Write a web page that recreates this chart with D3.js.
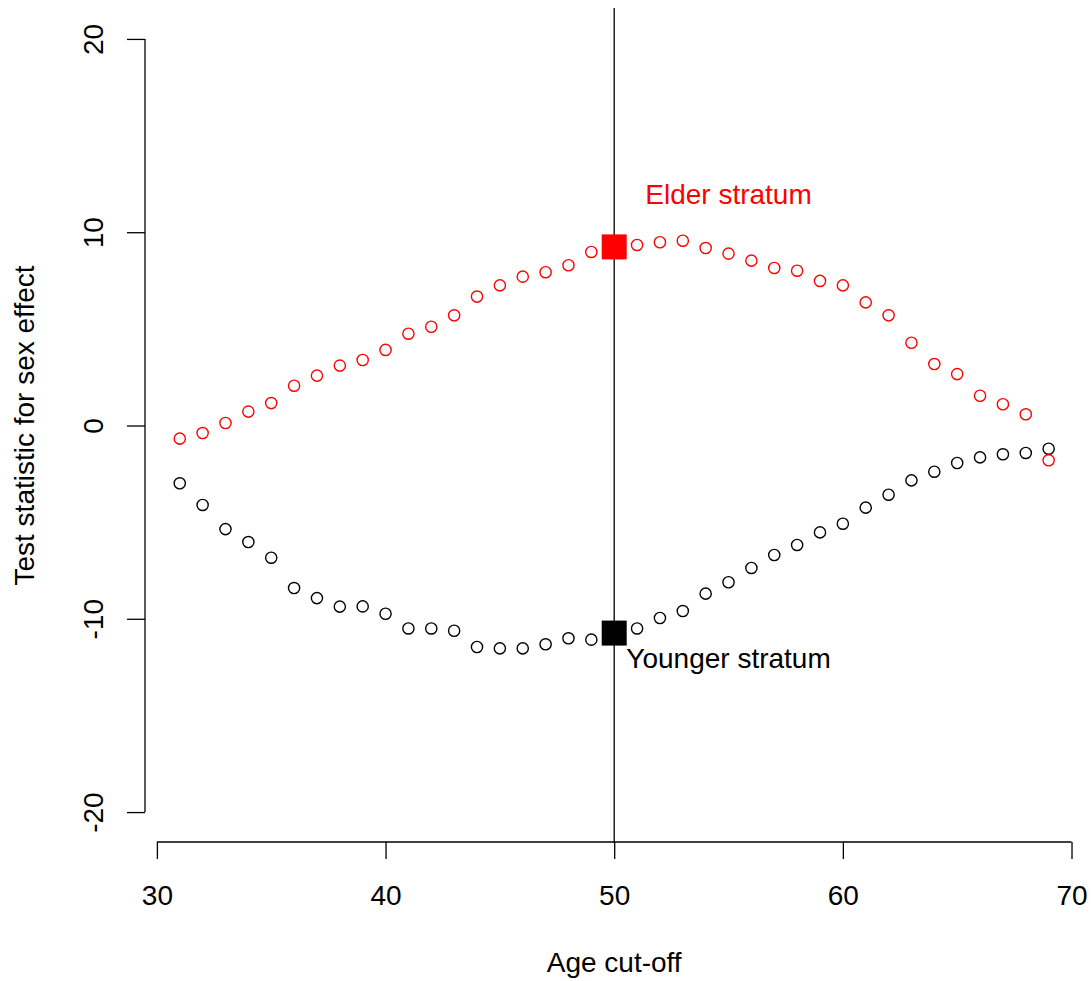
<!DOCTYPE html>
<html>
<head>
<meta charset="utf-8">
<script src="https://cdn.jsdelivr.net/npm/d3@7"></script>
<style>
  body { margin: 0; background: #fff; }
  text { font-family: "Liberation Sans", Arial, sans-serif; }
</style>
</head>
<body>
<div id="chart"></div>
<script>
var ages = [31, 32, 33, 34, 35, 36, 37, 38, 39, 40, 41, 42, 43, 44, 45, 46, 47, 48, 49, 50,
            51, 52, 53, 54, 55, 56, 57, 58, 59, 60, 61, 62, 63, 64, 65, 66, 67, 68, 69];

var elder = [-0.68, -0.39, 0.13, 0.72, 1.16, 2.06, 2.58, 3.10, 3.39, 3.91, 4.75, 5.11, 5.70,
             6.67, 7.25, 7.70, 7.93, 8.29, 8.98, 9.24, 9.34, 9.48, 9.56, 9.18, 8.89, 8.53,
             8.15, 8.01, 7.48, 7.25, 6.37, 5.70, 4.28, 3.18, 2.66, 1.54, 1.10, 0.58, -1.80];

var younger = [-2.99, -4.11, -5.36, -6.03, -6.84, -8.41, -8.93, -9.37, -9.36, -9.74, -10.50,
               -10.50, -10.62, -11.46, -11.53, -11.53, -11.32, -11.01, -11.08, -10.74, -10.50,
               -9.96, -9.60, -8.70, -8.11, -7.37, -6.70, -6.18, -5.53, -5.08, -4.25, -3.58,
               -2.84, -2.39, -1.94, -1.65, -1.49, -1.42, -1.20];

var cutoff = 50;
var xTicks = [30, 40, 50, 60, 70];
var yTicks = [-20, -10, 0, 10, 20];
var labels = [
  {text: "Elder stratum", x: 55, y: 12, color: "red"},
  {text: "Younger stratum", x: 55, y: -12, color: "black"}
];

var width = 1091, height = 981;

var svg = d3.select("#chart").append("svg")
  .attr("width", width)
  .attr("height", height);

// plot region, R style with 4% padding
var x = d3.scaleLinear().domain([29.48, 70.52]).range([145, 1083.4]);
var y = d3.scaleLinear().domain([-21.6, 21.6]).range([843, 8]);

// plain hyphen minus like R
var fmt = function(d) { return String(d); };

// x axis
var xAxis = svg.append("g")
  .attr("transform", "translate(0," + 842 + ")")
  .call(d3.axisBottom(x).tickValues(xTicks).tickFormat(fmt).tickSize(17).tickSizeOuter(0));
xAxis.select(".domain").remove();
xAxis.append("line")
  .attr("x1", x(30)).attr("x2", x(70))
  .attr("stroke", "black").attr("stroke-width", 1.3);
xAxis.selectAll(".tick line").attr("stroke", "black").attr("stroke-width", 1.3);
xAxis.selectAll(".tick text")
  .attr("y", 63).attr("dy", null)
  .attr("fill", "black")
  .style("font-size", "28px");

// y axis
var yAxis = svg.append("g")
  .attr("transform", "translate(" + 145 + ",0)")
  .call(d3.axisLeft(y).tickValues(yTicks).tickFormat(fmt).tickSize(18).tickSizeOuter(0));
yAxis.select(".domain").remove();
yAxis.append("line")
  .attr("y1", y(-20)).attr("y2", y(20))
  .attr("stroke", "black").attr("stroke-width", 1.3);
yAxis.selectAll(".tick line").attr("stroke", "black").attr("stroke-width", 1.3);
yAxis.selectAll(".tick text")
  .attr("x", null).attr("dy", null)
  .attr("text-anchor", "middle")
  .attr("transform", "translate(-42,0) rotate(-90)")
  .attr("fill", "black")
  .style("font-size", "28px");

// axis titles
svg.append("text")
  .attr("x", (x.range()[0] + x.range()[1]) / 2)
  .attr("y", 972)
  .attr("text-anchor", "middle")
  .style("font-size", "28px")
  .text("Age cut-off");

svg.append("text")
  .attr("transform", "translate(34," + (y.range()[0] + y.range()[1]) / 2 + ") rotate(-90)")
  .attr("text-anchor", "middle")
  .style("font-size", "28px")
  .text("Test statistic for sex effect");

// vertical cut-off line
svg.append("line")
  .attr("x1", x(cutoff)).attr("x2", x(cutoff))
  .attr("y1", y.range()[1]).attr("y2", y.range()[0])
  .attr("stroke", "black").attr("stroke-width", 1.3);

// points
function drawSeries(values, color) {
  svg.append("g").selectAll("circle")
    .data(values)
    .enter()
    .append("circle")
    .attr("cx", function(d, i) { return x(ages[i]); })
    .attr("cy", function(d) { return y(d); })
    .attr("r", 5.6)
    .attr("fill", "none")
    .attr("stroke", color)
    .attr("stroke-width", 1.4);

  var i = ages.indexOf(cutoff);
  svg.append("rect")
    .attr("x", x(cutoff) - 12.5)
    .attr("y", y(values[i]) - 12.5)
    .attr("width", 25)
    .attr("height", 25)
    .attr("fill", color);
}

drawSeries(younger, "black");
drawSeries(elder, "red");

// stratum labels
svg.selectAll(".lab")
  .data(labels)
  .enter()
  .append("text")
  .attr("class", "lab")
  .attr("x", function(d) { return x(d.x); })
  .attr("y", function(d) { return y(d.y); })
  .attr("dy", "0.36em")
  .attr("text-anchor", "middle")
  .attr("fill", function(d) { return d.color; })
  .style("font-size", "28px")
  .text(function(d) { return d.text; });
</script>
</body>
</html>
